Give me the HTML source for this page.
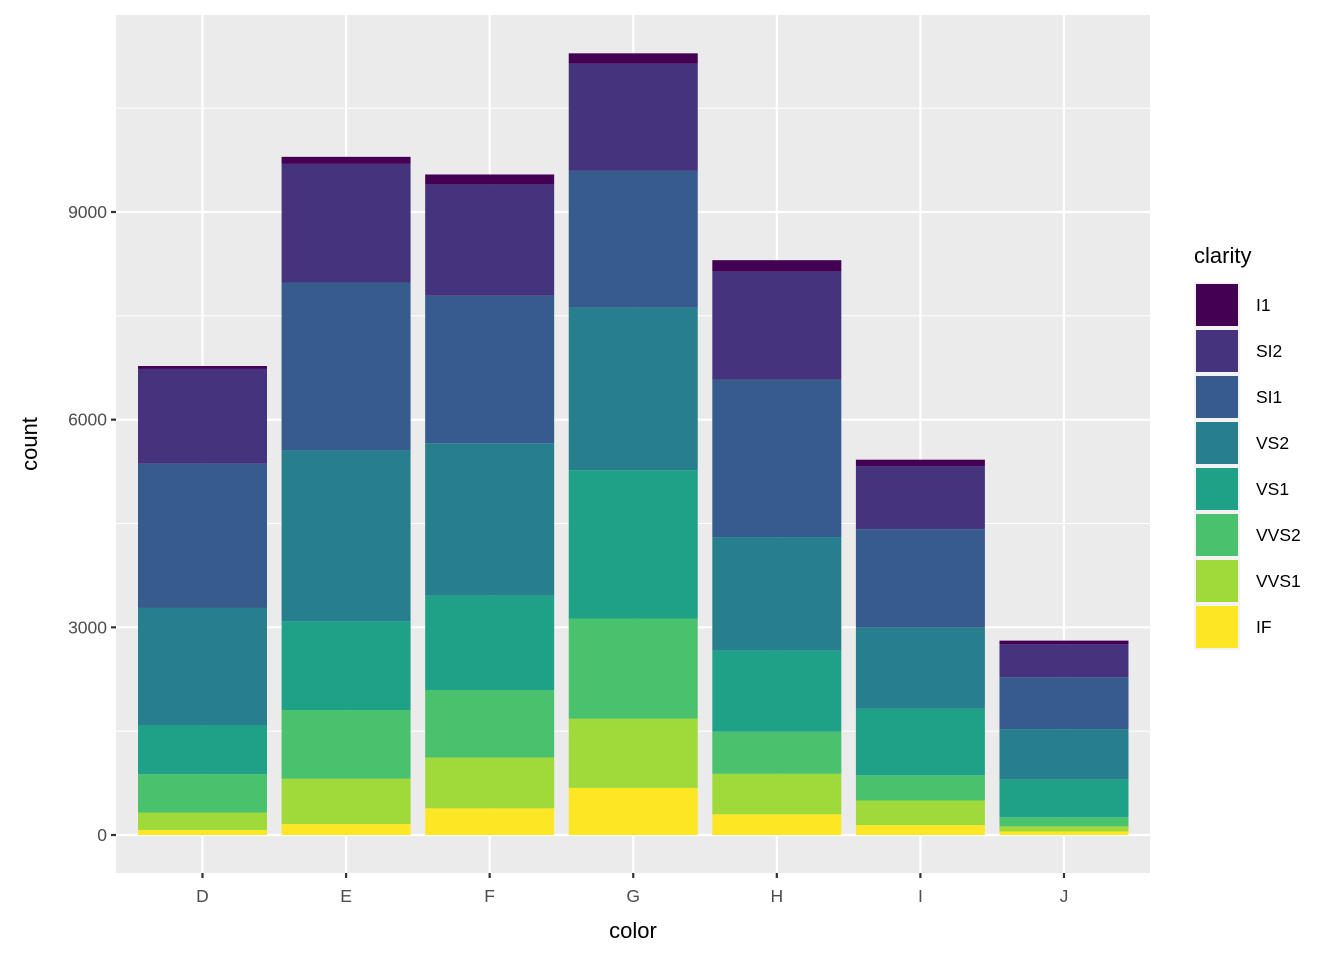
<!DOCTYPE html>
<html><head><meta charset="utf-8"><style>
body{margin:0;background:#fff;}
svg text{font-family:"Liberation Sans",sans-serif;}
</style></head><body>
<svg id="chart" width="1344" height="960" xmlns="http://www.w3.org/2000/svg"></svg>
<script>
const categories=["D","E","F","G","H","I","J"];
const clarities=["I1","SI2","SI1","VS2","VS1","VVS2","VVS1","IF"];
const colors=["#440154","#46337E","#365C8D","#277F8E","#1FA187","#4AC16D","#9FDA3A","#FDE725"];
// counts per clarity (stack bottom = IF)
const cntI1=[42,102,143,150,162,92,50];
const cntSI2=[1370,1713,1609,1548,1563,912,479];
const cntSI1=[2083,2426,2131,1976,2275,1424,750];
const cntVS2=[1697,2470,2201,2347,1643,1169,731];
const cntVS1=[705,1281,1364,2148,1169,962,542];
const cntVVS2=[553,991,975,1443,608,365,131];
const cntVVS1=[252,656,734,999,585,355,74];
const cntIF=[73,158,385,681,299,143,51];
const yTicks=[0,3000,6000,9000];
const yMinor=[1500,4500,7500,10500];

const series=[cntI1,cntSI2,cntSI1,cntVS2,cntVS1,cntVVS2,cntVVS1,cntIF];
const NS="http://www.w3.org/2000/svg";
const svg=document.getElementById('chart');
function mk(tag,attrs,parent){const e=document.createElementNS(NS,tag);for(const k in attrs)e.setAttribute(k,attrs[k]);(parent||svg).appendChild(e);return e;}
const PL=116,PR=1150,PT=15,PB=873;
const y=v=>835-v*(623/9000);
const x=i=>202.5+i*143.58;
const bw=129;

let r=mk('rect',{x:PL,y:PT,width:PR-PL,height:PB-PT,fill:'#EBEBEB'});


yMinor.forEach(v=>{let l=mk('line',{x1:PL,x2:PR,y1:y(v),y2:y(v),stroke:'#fff','stroke-width':1.1});

});
yTicks.forEach(v=>{let l=mk('line',{x1:PL,x2:PR,y1:y(v),y2:y(v),stroke:'#fff','stroke-width':2.2});


let t=mk('line',{x1:PL-5,x2:PL,y1:y(v),y2:y(v),stroke:'#333','stroke-width':2.2});


let tx=mk('text',{x:PL-9,y:y(v)+6,'text-anchor':'end','font-size':17.5,fill:'#4D4D4D'});tx.textContent=v;

});
categories.forEach((c,i)=>{let l=mk('line',{x1:x(i),x2:x(i),y1:PT,y2:PB,stroke:'#fff','stroke-width':2.2});


let t=mk('line',{x1:x(i),x2:x(i),y1:PB,y2:PB+5,stroke:'#333','stroke-width':2.2});


let tx=mk('text',{x:x(i),y:PB+29,'text-anchor':'middle','font-size':17.5,fill:'#4D4D4D'});tx.textContent=c;


let cum=0;
for(let s=series.length-1;s>=0;s--){const v=series[s][i];
let b=mk('rect',{x:x(i)-bw/2,y:y(cum+v),width:bw,height:y(cum)-y(cum+v),fill:colors[s]});


cum+=v;}
});
let xt=mk('text',{x:633,y:938,'text-anchor':'middle','font-size':22,fill:'#000'});xt.textContent='color';


let yt=mk('text',{x:0,y:0,'text-anchor':'middle','font-size':22,fill:'#000',transform:'translate(37,444) rotate(-90)'});yt.textContent='count';


let lt=mk('text',{x:1194,y:263,'font-size':22,fill:'#000'});lt.textContent='clarity';


clarities.forEach((c,k)=>{const ky=282+k*46;
let bg=mk('rect',{x:1194,y:ky,width:46,height:46,fill:'#F2F2F2'});


let sw=mk('rect',{x:1196,y:ky+2,width:42,height:42,fill:colors[k]});


let t=mk('text',{x:1256,y:ky+29,'font-size':17.5,fill:'#000'});t.textContent=c;

});
</script>
</body></html>
